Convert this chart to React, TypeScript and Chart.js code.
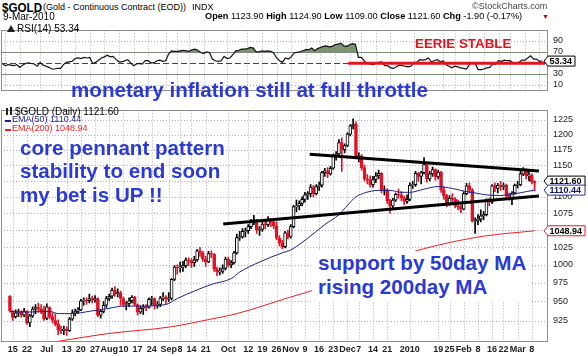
import React, { useEffect, useRef } from 'react';
import { Chart, registerables } from 'chart.js';

Chart.register(...registerables);

// ---------- x axis (trading-day index, 0 = 12-Jun-2009) ----------
const tickIdx = [1, 6, 13, 20, 25, 30, 35, 40, 45, 50, 56, 60, 64, 69, 77, 84, 89, 94, 99, 104, 109, 114, 119, 123, 128, 133, 141, 151, 155, 160, 165, 170, 174, 179, 184];
const tickText = ['15', '22', 'Jul', '13', '20', '27', 'Aug', '10', '17', '24', 'Sep', '8', '14', '21', 'Oct', '12', '19', '26', 'Nov', '9', '16', '23', 'Dec', '7', '14', '21', '2010', '19', '25', 'Feb', '8', '16', '22', 'Mar', '8'];

// ---------- daily OHLC ----------
const opens = [957,937,930,935,936,932,937,922,931,940,
 942,940,938,928,942,930,925,920,913,912,
 914,912,927,935,937,939,951,952,951,954,
 952,954,932,937,945,954,957,965,960,962,
 954,946,947,951,956,946,936,941,943,942,
 953,954,945,946,955,956,953,954,980,997,
 996,997,999,1007,1006,1003,1007,1020,1017,1008,
 1004,1016,1015,994,990,991,995,1008,1000,1003,
 1017,1039,1040,1048,1049,1055,1064,1065,1050,1051,
 1059,1058,1064,1062,1056,1038,1031,1026,1046,1040,
 1055,1085,1086,1090,1096,1103,1105,1115,1105,1116,
 1118,1138,1141,1136,1145,1165,1168,1187,1175,1182,
 1201,1215,1218,1163,1165,1146,1128,1126,1119,1127,
 1133,1137,1110,1111,1094,1086,1095,1104,1103,1098,
 1093,1096,1118,1119,1137,1132,1138,1151,1128,1136,
 1143,1131,1139,1111,1102,1089,1098,1096,1086,1085,
 1081,1105,1117,1111,1063,1064,1066,1071,1073,1094,
 1092,1117,1113,1118,1116,1118,1102,1097,1106,1118,
 1119,1136,1142,1133,1134,1123.9];
const highs = [958,938,939,940,938,941,938,933,943,946,
 948,946,944,947,943,935,934,926,918,918,
 917,929,939,940,942,953,955,955,960,957,
 958,955,939,950,957,960,968,970,967,964,
 956,950,955,958,957,947,944,946,946,955,
 957,955,950,957,962,958,962,981,999,1000,
 1004,1005,1010,1010,1009,1012,1022,1025,1019,1012,
 1019,1020,1016,997,996,1000,1011,1011,1006,1019,
 1044,1048,1052,1053,1058,1066,1072,1066,1055,1062,
 1063,1070,1067,1065,1062,1042,1035,1048,1050,1058,
 1087,1095,1094,1100,1107,1108,1119,1118,1119,1123,
 1140,1145,1146,1148,1168,1172,1192,1195,1185,1203,
 1217,1227,1222,1170,1167,1150,1135,1133,1132,1138,
 1142,1138,1117,1113,1096,1098,1106,1112,1108,1101,
 1103,1122,1124,1140,1138,1140,1162,1152,1140,1147,
 1144,1142,1140,1115,1104,1102,1105,1099,1095,1091,
 1108,1121,1122,1113,1068,1073,1080,1078,1097,1098,
 1119,1122,1121,1124,1122,1120,1106,1108,1120,1124,
 1140,1146,1144,1141,1136,1124.9];
const lows = [936,925,928,930,929,930,920,917,929,934,
 936,934,925,926,927,922,918,907,908,907,
 906,911,925,931,934,938,945,946,948,948,
 949,930,928,935,942,951,954,957,956,945,
 943,939,943,948,944,932,934,933,938,941,
 945,940,941,943,951,947,950,952,978,987,
 990,991,996,999,996,998,1005,1012,1005,998,
 1003,1010,991,985,986,988,993,997,996,1001,
 1015,1035,1038,1040,1045,1052,1058,1045,1042,1048,
 1052,1055,1055,1052,1036,1027,1023,1024,1037,1038,
 1053,1077,1080,1086,1092,1096,1100,1100,1103,1110,
 1115,1132,1130,1134,1143,1158,1166,1140,1170,1180,
 1198,1210,1160,1155,1142,1125,1120,1115,1115,1122,
 1128,1106,1103,1090,1075,1083,1093,1098,1094,1088,
 1090,1094,1113,1116,1124,1120,1136,1123,1125,1132,
 1126,1128,1107,1096,1085,1087,1091,1083,1080,1076,
 1080,1103,1106,1062,1045,1058,1062,1065,1071,1086,
 1090,1108,1106,1110,1111,1098,1095,1088,1104,1114,
 1117,1133,1128,1125,1120,1109];
const closes = [938,929,935,936,932,937,922,931,940,942,
 940,938,927,943,930,925,920,913,912,914,
 912,927,935,937,939,951,952,951,954,952,
 954,932,937,945,954,957,965,960,962,954,
 946,947,951,956,946,936,941,943,942,953,
 954,945,946,955,956,953,954,980,997,996,
 997,999,1007,1006,1003,1007,1020,1017,1008,1004,
 1016,1015,994,990,991,995,1008,1000,1003,1017,
 1039,1040,1048,1049,1055,1064,1065,1050,1051,1059,
 1058,1064,1062,1056,1038,1031,1026,1046,1040,1055,
 1085,1086,1090,1096,1103,1105,1115,1105,1116,1118,
 1138,1141,1136,1145,1165,1168,1187,1175,1182,1201,
 1215,1218,1163,1165,1146,1128,1126,1119,1127,1133,
 1137,1110,1111,1094,1086,1095,1104,1103,1098,1093,
 1096,1118,1119,1137,1132,1138,1151,1128,1136,1143,
 1131,1139,1111,1102,1089,1098,1096,1086,1085,1081,
 1105,1117,1111,1063,1064,1066,1071,1073,1094,1092,
 1117,1113,1118,1116,1118,1102,1097,1106,1118,1119,
 1136,1142,1133,1134,1123.5,1121.6];

// ---------- RSI(14) ----------
const rsi = [49,45,47,46,45,47,42,46,49,50,
 49,48,44,51,46,44,42,39,39,40,
 40,47,51,52,53,58,59,58,60,59,
 60,49,51,55,59,61,64,61,62,56,
 52,52,54,56,50,45,48,49,48,54,
 54,50,50,54,55,53,54,66,72,71,
 71,72,73,72,71,74,75,73,69,67,
 70,69,57,54,53,54,62,58,59,65,
 72,73,75,75,76,78,77,70,70,72,
 71,72,71,68,59,54,51,59,57,61,
 68,69,70,72,74,74,77,72,76,78,
 80,81,79,80,83,84,86,81,80,83,
 85,84,60,60,54,49,48,47,49,51,
 52,45,45,41,40,43,46,45,44,43,
 44,51,51,56,55,56,59,52,54,56,
 52,54,47,44,41,44,43,41,40,39,
 47,51,49,38,38,39,41,42,48,48,
 54,53,55,54,54,50,49,51,55,55,
 59,63,57,57,53,53.34];

// ---------- moving averages (read at sample days) ----------
const ema50Idx = [0, 6, 14, 17, 22, 28, 35, 40, 47, 55, 59, 65, 71, 78, 81, 88, 96, 99, 102, 105, 111, 116, 119, 122, 125, 130, 134, 138, 141, 146, 151, 156, 160, 164, 168, 173, 177, 182, 185];
const ema50Val = [937, 936, 937, 934, 934, 937, 941, 944, 944, 946, 954, 964, 973, 981, 990, 1004, 1017, 1021, 1029, 1038, 1058, 1073, 1087, 1100, 1106, 1110, 1110, 1107, 1107, 1112, 1116, 1113, 1109, 1106, 1103, 1102, 1104, 1108, 1110.44];
const ema200Idx = [0, 17, 34, 57, 71, 79, 99, 106, 141, 152, 167, 185];
const ema200Val = [890, 898.5, 908, 917, 927, 933, 956, 964, 1017, 1029, 1041, 1048.94];

// ---------- drawn annotation lines ----------
const upperTrend = [[105.7, 1167.5], [186.5, 1140.6]];
const lowerTrend = [[75.2, 1058.8], [186.5, 1101.4]];
const eerieLine = [[118.5, 49.5], [185.9, 49.5]];

const priceTicks = [925, 950, 975, 1000, 1025, 1050, 1075, 1100, 1125, 1150, 1175, 1200, 1225];
const rsiTicks = [10, 30, 70, 90];

const X_MIN = -0.4;
const X_MAX = 186.95;
const FONT = '"Liberation Sans", Arial, Helvetica, sans-serif';
const GRID = '#b3a9c6';
const FRAME = '#8e8e8e';
const BLUE = '#2a3ad2';
const RED = '#e3141f';
const UPRED = '#de1428';

Chart.defaults.font.family = FONT;

const pts = (a: number[][]) => a.map(([x, y]) => ({ x, y }));

function dotGrid(chart: any, yTicks: number[]) {
  const { ctx, chartArea: a, scales } = chart;
  ctx.save();
  ctx.strokeStyle = GRID;
  ctx.lineWidth = 1;
  ctx.setLineDash([1, 2]);
  ctx.beginPath();
  tickIdx.forEach((v) => {
    const px = Math.round(scales.x.getPixelForValue(v)) + 0.5;
    ctx.moveTo(px, a.top);
    ctx.lineTo(px, a.bottom);
  });
  yTicks.forEach((v) => {
    const py = Math.round(scales.y.getPixelForValue(v)) + 0.5;
    ctx.moveTo(a.left, py);
    ctx.lineTo(a.right, py);
  });
  ctx.stroke();
  ctx.restore();
}

function frame(chart: any) {
  const { ctx, chartArea: a } = chart;
  ctx.save();
  ctx.strokeStyle = FRAME;
  ctx.lineWidth = 1;
  ctx.setLineDash([]);
  ctx.strokeRect(Math.round(a.left) + 0.5, Math.round(a.top) + 0.5, Math.round(a.right - a.left) - 1, Math.round(a.bottom - a.top) - 1);
  ctx.restore();
}

function drawTag(ctx: CanvasRenderingContext2D, yc: number, text: string, stroke: string, color: string, r: number) {
  const h = 10;
  const tip = 544;
  const l = 548;
  ctx.save();
  ctx.setLineDash([]);
  ctx.beginPath();
  ctx.moveTo(tip, yc);
  ctx.lineTo(l, yc - h / 2);
  ctx.lineTo(r, yc - h / 2);
  ctx.lineTo(r, yc + h / 2);
  ctx.lineTo(l, yc + h / 2);
  ctx.closePath();
  ctx.fillStyle = '#fff';
  ctx.fill();
  ctx.lineWidth = 1;
  ctx.strokeStyle = stroke;
  ctx.stroke();
  ctx.fillStyle = color;
  ctx.font = `bold 9px ${FONT}`;
  ctx.textBaseline = 'middle';
  ctx.textAlign = 'left';
  ctx.fillText(text, l + 1.5, yc + 0.5);
  ctx.restore();
}

const Txt = (p: { x: number; b: number; size: number; bold?: boolean; color?: string; sx?: number; children: any }) => (
  <div
    style={{
      position: 'absolute',
      left: p.x,
      top: p.b - 0.8465 * p.size,
      fontSize: p.size,
      lineHeight: `${p.size}px`,
      fontWeight: p.bold ? 700 : 400,
      color: p.color || '#000',
      fontFamily: FONT,
      whiteSpace: 'nowrap',
      transform: p.sx ? `scaleX(${p.sx})` : undefined,
      transformOrigin: 'left top',
    }}
  >
    {p.children}
  </div>
);

export default function App() {
  const rsiRef = useRef<HTMLCanvasElement>(null);
  const mainRef = useRef<HTMLCanvasElement>(null);

  useEffect(() => {
    const down = closes.map((c, i) => (i === 0 ? true : c < closes[i - 1]));

    const rsiChart = new Chart(rsiRef.current as HTMLCanvasElement, {
      type: 'line',
      data: {
        datasets: [
          {
            data: pts(eerieLine),
            borderColor: RED,
            borderWidth: 3,
            pointRadius: 0,
            fill: false,
            order: 1,
          } as any,
          {
            data: rsi.map((v, i) => ({ x: i, y: v })),
            borderColor: '#111',
            borderWidth: 1.2,
            pointRadius: 0,
            tension: 0,
            fill: { target: { value: 70 }, above: 'rgba(100,130,92,0.85)', below: 'rgba(0,0,0,0)' },
            order: 2,
          } as any,
        ],
      },
      options: {
        responsive: false,
        animation: false,
        devicePixelRatio: 1,
        events: [],
        layout: { padding: { left: 1, right: 0, top: 3, bottom: 2 } },
        plugins: { legend: { display: false }, tooltip: { enabled: false } },
        scales: {
          x: { type: 'linear', display: false, min: X_MIN, max: X_MAX },
          y: {
            position: 'right',
            min: -2,
            max: 109,
            afterBuildTicks: (s: any) => {
              s.ticks = rsiTicks.map((v) => ({ value: v }));
            },
            afterFit: (s: any) => {
              s.width = 40;
            },
            ticks: { padding: 5, color: '#222', font: { size: 9 }, callback: (v: any) => String(v) },
            grid: { display: false, drawTicks: false },
            border: { display: false },
          },
        },
      } as any,
      plugins: [
        {
          id: 'rsiDecor',
          beforeDatasetsDraw(chart: any) {
            dotGrid(chart, [10, 90]);
            const { ctx, chartArea: a, scales } = chart;
            ctx.save();
            ctx.lineWidth = 1;
            ctx.strokeStyle = '#7d8c78';
            ctx.setLineDash([]);
            ctx.beginPath();
            [30, 70].forEach((v) => {
              const py = Math.round(scales.y.getPixelForValue(v)) + 0.5;
              ctx.moveTo(a.left, py);
              ctx.lineTo(a.right, py);
            });
            ctx.stroke();
            ctx.strokeStyle = '#444';
            ctx.setLineDash([6, 3]);
            ctx.beginPath();
            const p50 = Math.round(scales.y.getPixelForValue(50)) + 0.5;
            ctx.moveTo(a.left, p50);
            ctx.lineTo(a.right, p50);
            ctx.stroke();
            ctx.restore();
          },
          afterDraw(chart: any) {
            frame(chart);
            const last = rsi[rsi.length - 1];
            drawTag(chart.ctx, chart.scales.y.getPixelForValue(last), last.toFixed(2), '#000', '#000', 575);
          },
        },
      ],
    });

    const mainChart = new Chart(mainRef.current as HTMLCanvasElement, {
      type: 'bar',
      data: {
        datasets: [
          {
            type: 'line',
            data: pts(upperTrend),
            borderColor: '#000',
            borderWidth: 3,
            pointRadius: 0,
            order: 0,
          } as any,
          {
            type: 'line',
            data: pts(lowerTrend),
            borderColor: '#000',
            borderWidth: 3,
            pointRadius: 0,
            order: 0,
          } as any,
          {
            type: 'line',
            data: ema50Idx.map((x, k) => ({ x, y: ema50Val[k] })),
            borderColor: '#1c1f8e',
            borderWidth: 1,
            pointRadius: 0,
            cubicInterpolationMode: 'monotone',
            order: 1,
          } as any,
          {
            type: 'line',
            data: ema200Idx.map((x, k) => ({ x, y: ema200Val[k] })),
            borderColor: '#f01e1e',
            borderWidth: 1,
            pointRadius: 0,
            cubicInterpolationMode: 'monotone',
            order: 1,
          } as any,
          {
            data: closes.map((c, i) => ({ x: i, y: [Math.min(opens[i], c), Math.max(opens[i], c)] })),
            backgroundColor: down.map((d) => (d ? UPRED : '#ffffff')),
            borderColor: down.map((d) => (d ? UPRED : '#000000')),
            borderWidth: 1,
            borderSkipped: false,
            barThickness: 3,
            grouped: false,
            order: 2,
          } as any,
          {
            data: closes.map((c, i) => ({ x: i, y: [lows[i], highs[i]] })),
            backgroundColor: down.map((d) => (d ? UPRED : '#000000')),
            borderWidth: 0,
            barThickness: 1,
            grouped: false,
            order: 3,
          } as any,
        ],
      },
      options: {
        responsive: false,
        animation: false,
        devicePixelRatio: 1,
        events: [],
        layout: { padding: { left: 1, right: 0, top: 1, bottom: 0 } },
        plugins: { legend: { display: false }, tooltip: { enabled: false } },
        scales: {
          x: {
            type: 'linear',
            min: X_MIN,
            max: X_MAX,
            afterBuildTicks: (s: any) => {
              s.ticks = tickIdx.map((v) => ({ value: v }));
            },
            afterFit: (s: any) => {
              s.height = 14;
            },
            ticks: {
              autoSkip: false,
              maxRotation: 0,
              minRotation: 0,
              padding: 2,
              color: '#222',
              font: { size: 9, weight: 'bold' },
              callback: (_v: any, idx: number) => tickText[idx] ?? '',
            },
            grid: { display: false, drawTicks: false },
            border: { display: false },
          },
          y: {
            type: 'logarithmic',
            position: 'right',
            min: 897.6,
            max: 1241.6,
            afterBuildTicks: (s: any) => {
              s.ticks = priceTicks.map((v) => ({ value: v }));
            },
            afterFit: (s: any) => {
              s.width = 40;
            },
            ticks: { padding: 5, color: '#222', font: { size: 9 }, callback: (v: any) => String(v) },
            grid: { display: false, drawTicks: false },
            border: { display: false },
          },
        },
      } as any,
      plugins: [
        {
          id: 'mainDecor',
          beforeDatasetsDraw(chart: any) {
            dotGrid(chart, priceTicks);
          },
          afterDraw(chart: any) {
            frame(chart);
            const y = chart.scales.y;
            const c = closes[closes.length - 1];
            const e50 = ema50Val[ema50Val.length - 1];
            const e200 = ema200Val[ema200Val.length - 1];
            const p2 = y.getPixelForValue(e50);
            const p1 = Math.min(y.getPixelForValue(c), p2 - 9);
            drawTag(chart.ctx, p1, c.toFixed(2), '#000', '#000', 585);
            drawTag(chart.ctx, p2, e50.toFixed(2), '#2233aa', '#111560', 585);
            drawTag(chart.ctx, y.getPixelForValue(e200), e200.toFixed(2), '#e01a1a', '#000', 585);
          },
        },
      ],
    });

    return () => {
      rsiChart.destroy();
      mainChart.destroy();
    };
  }, []);

  const n = closes.length - 1;
  const chg = closes[n] - closes[n - 1];
  const pct = (chg / closes[n - 1]) * 100;

  return (
    <div style={{ position: 'absolute', left: 0, top: 0, width: 588, height: 356, background: '#fff', overflow: 'hidden' }}>
      <canvas ref={rsiRef} width={588} height={82} style={{ position: 'absolute', left: 0, top: 20 }} />
      <canvas ref={mainRef} width={588} height={256} style={{ position: 'absolute', left: 0, top: 100 }} />

      {/* header */}
      <Txt x={2} b={13} size={12.5} bold sx={0.93}>$GOLD</Txt>
      <Txt x={43} b={11} size={9}>(Gold - Continuous Contract (EOD))</Txt>
      <Txt x={192} b={11} size={9}>INDX</Txt>
      <Txt x={472} b={9.5} size={9} color="#444">©StockCharts.com</Txt>
      <Txt x={3} b={20} size={10}>9-Mar-2010</Txt>
      <Txt x={205} b={20} size={9.2}>
        <b>Open</b> {opens[n].toFixed(2)} <b>High</b> {highs[n].toFixed(2)} <b>Low</b> {lows[n].toFixed(2)} <b>Close</b>{' '}
        {closes[n].toFixed(2)} <b>Chg</b> {chg.toFixed(2)} ({pct.toFixed(2)}%)
      </Txt>
      <Txt x={542} b={19} size={7} color="#c0001a">▼</Txt>

      {/* RSI legend */}
      <div style={{ position: 'absolute', left: 7, top: 25, width: 0, height: 0, borderLeft: '4px solid transparent', borderRight: '4px solid transparent', borderBottom: '7px solid #222' }} />
      <Txt x={17} b={32} size={10}>RSI(14) {rsi[rsi.length - 1].toFixed(2)}</Txt>
      <Txt x={415} b={48} size={13.4} bold color={RED}>EERIE STABLE</Txt>

      {/* main legend */}
      <div style={{ position: 'absolute', left: 6, top: 108, width: 2, height: 7, background: '#222' }} />
      <div style={{ position: 'absolute', left: 10, top: 107, width: 2, height: 8, background: '#222' }} />
      <Txt x={15} b={115} size={10}>$GOLD (Daily) {closes[n].toFixed(2)}</Txt>
      <div style={{ position: 'absolute', left: 5, top: 120, width: 6, height: 1.5, background: '#1c1f8e' }} />
      <Txt x={12} b={123} size={9} color="#1c1f8e">EMA(50) {ema50Val[ema50Val.length - 1].toFixed(2)}</Txt>
      <div style={{ position: 'absolute', left: 5, top: 129, width: 6, height: 1.5, background: '#f01e1e' }} />
      <Txt x={12} b={132} size={9} color="#f01e1e">EMA(200) {ema200Val[ema200Val.length - 1].toFixed(2)}</Txt>

      {/* annotations */}
      <Txt x={71} b={97} size={20.6} bold color={BLUE}>monetary inflation still at full throttle</Txt>
      <Txt x={20} b={155} size={20.6} bold color={BLUE}>core pennant pattern</Txt>
      <Txt x={20} b={178} size={20.6} bold color={BLUE}>stability to end soon</Txt>
      <Txt x={20} b={202} size={20.6} bold color={BLUE}>my bet is UP !!</Txt>
      <div style={{ position: 'absolute', left: 312, top: 251, width: 218, height: 51, background: '#fff' }} />
      <Txt x={318} b={270} size={20.6} bold color={BLUE}>support by 50day MA</Txt>
      <Txt x={318} b={294} size={20.6} bold color={BLUE}>rising 200day MA</Txt>
    </div>
  );
}
